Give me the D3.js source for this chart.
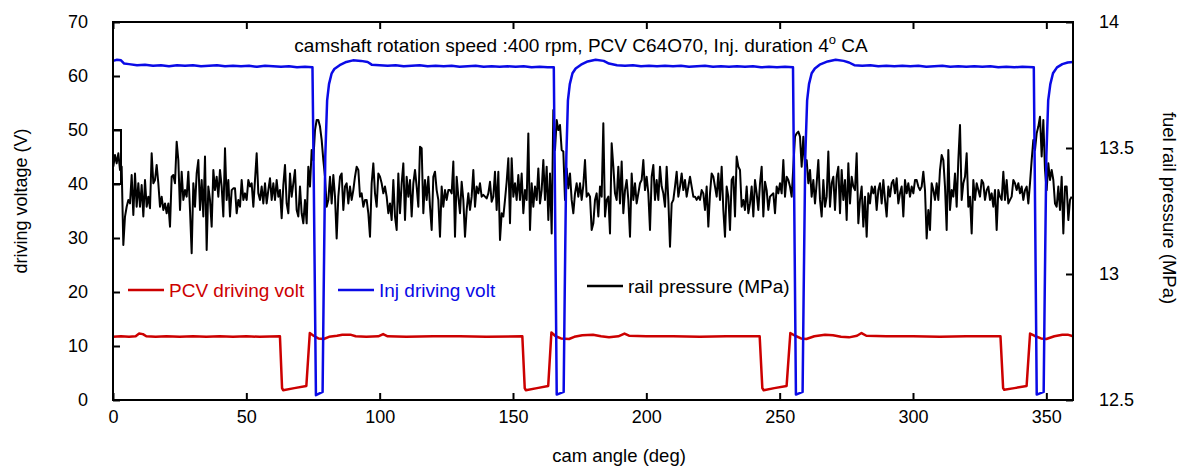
<!DOCTYPE html>
<html>
<head>
<meta charset="utf-8">
<script src="https://cdn.jsdelivr.net/npm/d3@7"></script>
<style>
body { margin: 0; background: #fff; }
text { font-family: Arial, "Liberation Sans", sans-serif; }
</style>
</head>
<body>
<div id="chart"></div>
<script>
const MARGIN = {top: 22, right: 110, bottom: 67, left: 113},
WIDTH = 1183 - MARGIN.left - MARGIN.right,
HEIGHT = 467 - MARGIN.top - MARGIN.bottom;

// tick values
const X_TICKS = [0, 50, 100, 150, 200, 250, 300, 350];
const VOLT_TICKS = [0, 10, 20, 30, 40, 50, 60, 70];
const PRESS_TICKS = [12.5, 13, 13.5, 14];

// Inj driving volt [cam angle, V]
const injVolt = [
  [0,62.8],[1.5,63.0],[3,62.9],[4.2,62.3],[6,62.2],[9,62.0],[12,62.1],[15,61.9],[18,62.0],[21,61.8],
  [24,62.0],[27,61.9],[30,62.0],[33,61.8],[36,61.9],[39,62.0],[42,61.8],[45,61.9],[48,61.8],[51,61.9],
  [54,61.7],[57,61.9],[60,61.8],[63,61.7],[66,61.8],[69,61.6],[72,61.7],[74.8,61.6],
  [75.3,40],[76.1,0.9],[78.6,1.5],[79.0,20],[79.6,45],[80.3,55.5],[81.0,58.5],[82.0,60.5],[83.0,61.3],
  [85,62.0],[87.5,62.6],[90,62.9],[93,62.8],[95.5,62.6],[97,62.1],[100,62.0],[103,61.9],[106,62.0],
  [109,61.8],[112,61.9],[115,62.0],[118,61.8],[121,61.9],[124,61.8],[127,61.9],[130,61.7],[133,61.8],
  [136,61.9],[139,61.7],[142,61.8],[145,61.7],[148,61.8],[151,61.7],[154,61.8],[157,61.6],[160,61.7],
  [163,61.6],[165.3,61.6],
  [165.7,40],[166.4,1.0],[169.0,1.5],[169.4,20],[170.0,45],[170.6,55.5],[171.3,58.5],[172.3,60.5],
  [173.5,61.4],[175.5,62.1],[178,62.7],[181,63.0],[184,62.8],[186,62.3],[189,62.0],[192,61.9],
  [195,62.0],[198,61.8],[201,61.9],[204,61.8],[207,61.9],[210,61.8],[213,61.9],[216,61.7],[219,61.8],
  [222,61.9],[225,61.7],[228,61.8],[231,61.7],[234,61.8],[237,61.7],[240,61.8],[243,61.6],[246,61.7],
  [249,61.6],[252,61.7],[255.0,61.6],
  [255.4,40],[256.1,1.0],[258.6,1.5],[259.0,20],[259.6,45],[260.3,55.5],[261.0,58.5],[262.0,60.5],
  [263.2,61.4],[265,62.1],[268,62.7],[271,63.0],[274,62.8],[276,62.5],[278,62.0],[281,61.9],[284,62.0],
  [287,61.8],[290,61.9],[293,61.8],[296,61.9],[299,61.8],[302,61.9],[305,61.7],[308,61.8],[311,61.9],
  [314,61.7],[317,61.8],[320,61.7],[323,61.8],[326,61.7],[329,61.8],[332,61.6],[335,61.7],[338,61.6],
  [341,61.7],[345.3,61.6],
  [345.7,40],[346.4,1.0],[349.0,1.5],[349.4,20],[350.0,45],[350.7,55.5],[351.5,58.5],[352.5,60.5],
  [354,61.6],[356,62.2],[358,62.5],[360,62.6]
];

// PCV driving volt [cam angle, V]
const pcvVolt = [
  [0,11.7],[3,11.8],[6,11.7],[8.5,11.8],[9.8,12.3],[11.2,12.2],[12.5,11.8],[16,11.7],[20,11.8],[25,11.7],
  [30,11.8],[35,11.7],[40,11.8],[45,11.7],[50,11.8],[55,11.7],[62.6,11.8],[63.4,2.2],[63.8,1.8],[68,2.2],
  [72.5,2.6],[73.8,12.4],[75.2,11.9],[77,11.4],[79,11.3],[81,11.7],[84,11.9],[86,12.1],[89,12.1],[91,11.8],
  [95,11.7],[99.5,11.8],[101.3,12.2],[103,11.8],[110,11.7],[120,11.8],[130,11.8],[140,11.7],[153.5,11.8],
  [154.4,2.2],[154.8,1.8],[159,2.2],[163.2,2.6],[164.4,12.5],[166,11.8],[168,11.4],[171,11.3],[173,11.7],
  [176,12.0],[180,12.1],[183,11.8],[186,11.6],[189.5,11.8],[191.8,12.3],[193.5,11.9],[200,11.8],[210,11.8],
  [220,11.7],[230,11.8],[242.5,11.8],[243.5,2.2],[244,1.8],[248,2.2],[252.6,2.6],[254,12.4],[255.8,11.9],
  [258,11.4],[260,11.3],[263,11.8],[267,12.1],[270,12.0],[273,11.7],[276,11.6],[279,11.9],[280.7,12.4],
  [282.5,11.9],[290,11.8],[300,11.8],[310,11.7],[320,11.8],[332.8,11.8],[333.8,2.2],[334.2,1.9],[338,2.2],
  [342.6,2.6],[343.9,12.3],[345.5,11.9],[348,11.4],[350,11.3],[353,11.8],[356,12.1],[358,12.1],[360,11.8]
];

// rail pressure (MPa), sampled evenly inside each span
const railSpan1 = [0.125, 120.125];
const railP1 = [
  13.426,13.472,13.439,13.479,13.413,13.426,13.115,13.228,13.267,13.294,
  13.280,13.393,13.234,13.399,13.267,13.360,13.267,13.353,13.228,13.373,
  13.267,13.307,13.261,13.479,13.360,13.373,13.433,13.360,13.267,13.307,
  13.254,13.280,13.241,13.280,13.188,13.386,13.393,13.360,13.525,13.452,
  13.254,13.406,13.294,13.333,13.307,13.406,13.254,13.082,13.360,13.267,
  13.399,13.452,13.254,13.373,13.228,13.466,13.095,13.347,13.294,13.188,
  13.413,13.333,13.386,13.307,13.413,13.347,13.228,13.499,13.294,13.373,
  13.228,13.333,13.340,13.340,13.241,13.294,13.267,13.373,13.294,13.320,
  13.294,13.373,13.347,13.360,13.267,13.373,13.479,13.320,13.294,13.347,
  13.280,13.360,13.280,13.333,13.380,13.294,13.360,13.294,13.373,13.307,
  13.333,13.221,13.353,13.433,13.280,13.241,13.399,13.307,13.360,13.413,
  13.254,13.228,13.347,13.241,13.201,13.294,13.201,13.426,13.347,13.492,
  13.452,13.571,13.611,13.611,13.585,13.532,13.452,13.386,13.267,13.294,
  13.386,13.280,13.393,13.307,13.141,13.307,13.386,13.399,13.254,13.347,
  13.360,13.280,13.347,13.294,13.333,13.386,13.426,13.413,13.307,13.320,
  13.267,13.294,13.294,13.241,13.148,13.360,13.439,13.320,13.267,13.399,
  13.386,13.360,13.320,13.347,13.307,13.241,13.280,13.214,13.373,13.228,
  13.175,13.399,13.241,13.360,13.439,13.214,13.386,13.307,13.373,13.228,
  13.360,13.413,13.347,13.267,13.505,13.499,13.241,13.373,13.294,13.386,
  13.267,13.175,13.386
];
const railSpan2 = [120.75, 240.125];
const railP2 = [
  13.406,13.333,13.294,13.148,13.347,13.267,13.333,13.294,13.333,13.333,
  13.320,13.446,13.148,13.386,13.307,13.241,13.366,13.294,13.148,13.254,
  13.320,13.254,13.307,13.413,13.267,13.347,13.320,13.360,13.307,13.314,
  13.307,13.300,13.320,13.366,13.287,13.307,13.406,13.254,13.406,13.135,
  13.241,13.228,13.294,13.366,13.459,13.201,13.459,13.307,13.360,13.294,
  13.393,13.294,13.399,13.241,13.333,13.294,13.558,13.175,13.360,13.267,
  13.347,13.294,13.419,13.280,13.333,13.452,13.294,13.426,13.214,13.399,
  13.161,13.651,13.492,13.611,13.571,13.591,13.492,13.486,13.294,13.419,
  13.340,13.399,13.294,13.241,13.320,13.360,13.307,13.360,13.294,13.353,
  13.452,13.307,13.320,13.307,13.175,13.201,13.294,13.320,13.228,13.347,
  13.307,13.598,13.228,13.294,13.307,13.161,13.519,13.426,13.320,13.294,
  13.426,13.280,13.446,13.241,13.333,13.373,13.294,13.148,13.399,13.294,
  13.360,13.280,13.320,13.360,13.373,13.452,13.333,13.386,13.320,13.175,
  13.386,13.433,13.294,13.373,13.294,13.426,13.347,13.320,13.267,13.426,
  13.294,13.108,13.280,13.294,13.347,13.406,13.307,13.347,13.399,13.333,
  13.373,13.307,13.347,13.386,13.347,13.307,13.307,13.294,13.307,13.294,
  13.333,13.320,13.254,13.347,13.188,13.320,13.399,13.386,13.347,13.307,
  13.399,13.294,13.426,13.254,13.148,13.347,13.307,13.175,13.373,13.386,
  13.228,13.466,13.426,13.413,13.267,13.294,13.254,13.347,13.241,13.280,
  13.347,13.228
];
const railSpan3 = [240.75, 359.5];
const railP3 = [
  13.373,13.320,13.254,13.360,13.426,13.228,13.366,13.333,13.254,13.307,
  13.314,13.320,13.241,13.347,13.320,13.360,13.320,13.452,13.307,13.386,
  13.373,13.347,13.307,13.426,13.545,13.558,13.565,13.545,13.426,13.545,
  13.426,13.452,13.360,13.413,13.307,13.373,13.280,13.360,13.452,13.294,
  13.228,13.373,13.267,13.307,13.486,13.267,13.360,13.386,13.254,13.386,
  13.426,13.241,13.413,13.294,13.373,13.214,13.439,13.280,13.386,13.347,
  13.333,13.479,13.201,13.294,13.347,13.188,13.307,13.148,13.320,13.280,
  13.347,13.320,13.347,13.254,13.333,13.360,13.280,13.373,13.294,13.228,
  13.347,13.307,13.360,13.373,13.320,13.380,13.280,13.320,13.347,13.228,
  13.373,13.320,13.360,13.307,13.347,13.320,13.373,13.373,13.347,13.333,
  13.347,13.406,13.333,13.141,13.254,13.175,13.360,13.333,13.294,13.360,
  13.294,13.413,13.472,13.452,13.347,13.175,13.492,13.254,13.333,13.307,
  13.399,13.267,13.452,13.591,13.294,13.360,13.386,13.479,13.267,13.307,
  13.161,13.373,13.294,13.360,13.333,13.307,13.373,13.360,13.294,13.333,
  13.347,13.294,13.320,13.267,13.333,13.175,13.333,13.307,13.294,13.406,
  13.294,13.373,13.280,13.294,13.307,13.373,13.360,13.333,13.360,13.320,
  13.347,13.294,13.333,13.347,13.280,13.360,13.452,13.532,13.492,13.558,
  13.585,13.624,13.466,13.611,13.413,13.333,13.439,13.373,13.413,13.373,
  13.280,13.267,13.347,13.254,13.386,13.161,13.347,13.347,13.214,13.294,
  13.307
];

// small bracket drawn at the start of the trace [cam angle, V]
const startBox = [[0,50],[3,50],[3,40],[0,40]];

const RED = '#cc0000', BLUE = '#0a0ae6';

var x = d3.scaleLinear().domain([0, 360]).range([0, WIDTH]);
var yL = d3.scaleLinear().domain([0, 70]).range([HEIGHT, 0]);
var yR = d3.scaleLinear().domain([12.5, 14]).range([HEIGHT, 0]);

const SVG = d3.select('#chart')
        .append('svg')
        .attr('width', 1183)
        .attr('height', 467);

const G = SVG.append('g')
        .attr('transform', `translate(${MARGIN.left},${MARGIN.top})`);

// rail pressure points from the three spans
const railPts = [[railP1, railSpan1], [railP2, railSpan2], [railP3, railSpan3]]
    .flatMap(([vals, span]) => {
        let idx = d3.scaleLinear().domain([0, vals.length - 1]).range(span);
        return vals.map((v, i) => [idx(i), v]);
    });

const lineL = d3.line().x(d => x(d[0])).y(d => yL(d[1]));
const lineR = d3.line().x(d => x(d[0])).y(d => yR(d[1]));

G.append('path')
    .attr('d', lineR(railPts))
    .attr('fill', 'none')
    .attr('stroke', '#000')
    .attr('stroke-width', 2)
    .attr('stroke-linejoin', 'round');

G.append('path')
    .attr('d', lineL(startBox))
    .attr('fill', 'none')
    .attr('stroke', '#000')
    .attr('stroke-width', 2);

G.append('path')
    .attr('d', lineL(pcvVolt))
    .attr('fill', 'none')
    .attr('stroke', RED)
    .attr('stroke-width', 2.5)
    .attr('stroke-linejoin', 'round');

G.append('path')
    .attr('d', lineL(injVolt))
    .attr('fill', 'none')
    .attr('stroke', BLUE)
    .attr('stroke-width', 2.5)
    .attr('stroke-linejoin', 'round');

// axes
const styleAxis = g => {
    g.select('.domain').remove();
    g.selectAll('.tick line').attr('stroke', '#000').attr('stroke-width', 2);
    g.selectAll('.tick text').attr('fill', '#000').style('font-size', '18px');
};

G.append('g')
    .attr('transform', `translate(0,${HEIGHT})`)
    .call(d3.axisBottom(x).tickValues(X_TICKS).tickSizeInner(-7).tickSizeOuter(0).tickPadding(10))
    .call(styleAxis);

G.append('g')
    .call(d3.axisTop(x).tickValues(X_TICKS).tickSizeInner(-7).tickSizeOuter(0).tickFormat(''))
    .call(styleAxis);

G.append('g')
    .call(d3.axisLeft(yL).tickValues(VOLT_TICKS).tickSizeInner(-7).tickSizeOuter(0).tickPadding(25))
    .call(styleAxis);

G.append('g')
    .attr('transform', `translate(${WIDTH},0)`)
    .call(d3.axisRight(yR).tickValues(PRESS_TICKS).tickSizeInner(-7).tickSizeOuter(0).tickPadding(26).tickFormat(d3.format('')))
    .call(styleAxis);

G.append('rect')
    .attr('width', WIDTH)
    .attr('height', HEIGHT)
    .attr('fill', 'none')
    .attr('stroke', '#000')
    .attr('stroke-width', 2);

// title
const title = G.append('text')
    .attr('x', 468)
    .attr('y', 30)
    .attr('text-anchor', 'middle')
    .style('font-size', '19px');
title.append('tspan').text('camshaft rotation speed :400 rpm, PCV C64O70, Inj. duration 4');
title.append('tspan').attr('dy', -8).style('font-size', '13px').text('o');
title.append('tspan').attr('dy', 8).text(' CA');

// legend
const legend = [
    {label: 'PCV driving volt', color: RED, x: 15, y: 268, tc: RED},
    {label: 'Inj driving volt', color: BLUE, x: 225, y: 268, tc: BLUE},
    {label: 'rail pressure (MPa)', color: '#000', x: 474, y: 264, tc: '#000'}
];
const lg = G.selectAll('.legend').data(legend).enter().append('g')
    .attr('transform', d => `translate(${d.x},${d.y})`);
lg.append('line')
    .attr('x1', 0).attr('x2', 36)
    .attr('stroke', d => d.color)
    .attr('stroke-width', 2.5);
lg.append('text')
    .attr('x', 41)
    .attr('dy', '0.35em')
    .attr('fill', d => d.tc)
    .style('font-size', '19px')
    .text(d => d.label);

// axis titles
SVG.append('text')
    .attr('x', 619)
    .attr('y', 462)
    .attr('text-anchor', 'middle')
    .style('font-size', '18.5px')
    .text('cam angle (deg)');

SVG.append('text')
    .attr('transform', 'translate(21,201) rotate(-90)')
    .attr('text-anchor', 'middle')
    .attr('dy', '0.35em')
    .style('font-size', '18px')
    .text('driving voltage (V)');

SVG.append('text')
    .attr('transform', 'translate(1169,208) rotate(90)')
    .attr('text-anchor', 'middle')
    .attr('dy', '0.35em')
    .style('font-size', '18.5px')
    .text('fuel rail pressure (MPa)');
</script>
</body>
</html>
